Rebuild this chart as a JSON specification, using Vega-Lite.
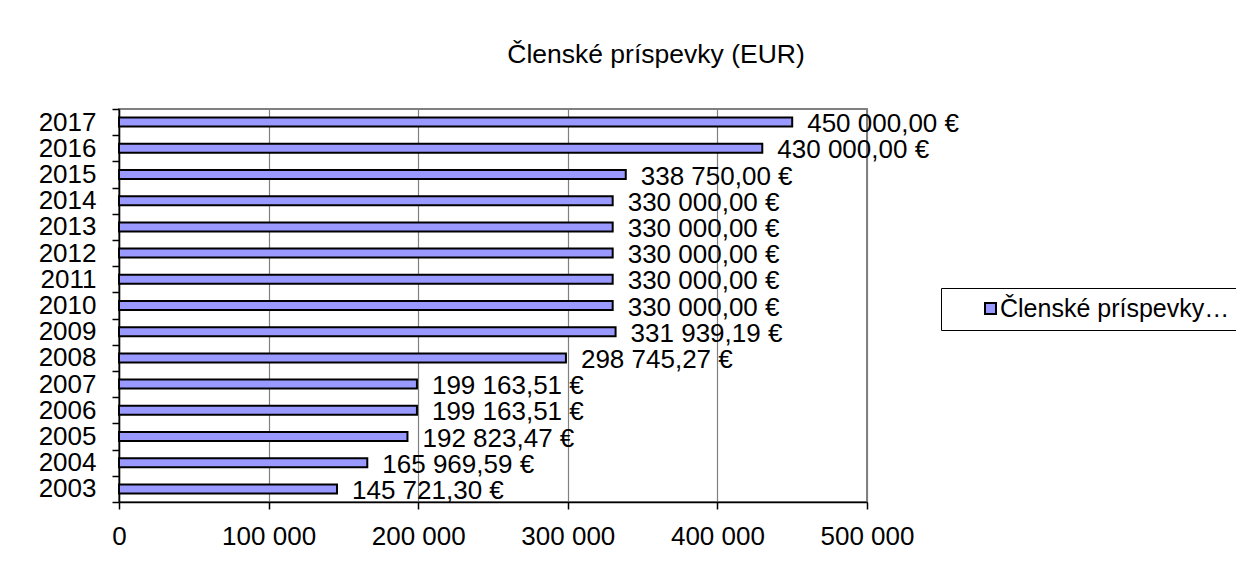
{
  "$schema": "https://vega.github.io/schema/vega-lite/v6.json",
  "width": 748,
  "height": 393,
  "autosize": {"type": "none"},
  "padding": {"left": 119, "top": 109, "right": 369, "bottom": 82},
  "background": "white",
  "title": {
    "text": "Členské príspevky (EUR)",
    "font": "Liberation Sans",
    "fontSize": 26.5,
    "fontWeight": "normal",
    "color": "black",
    "anchor": "middle",
    "dx": 163,
    "offset": 7,
    "baseline": "alphabetic"
  },
  "config": {
    "locale": {
      "number": {"decimal": ",", "thousands": " ", "grouping": [3], "currency": ["", " €"]}
    },
    "font": "Liberation Sans",
    "view": {"stroke": "#808080", "strokeWidth": 2},
    "axis": {
      "labelFont": "Liberation Sans",
      "labelFontSize": 26,
      "labelColor": "black",
      "domainColor": "black",
      "domainWidth": 1.5,
      "tickColor": "black",
      "tickWidth": 1.5,
      "tickSize": 7,
      "title": null
    }
  },
  "data": {
    "values": [
      {"year": "2003", "value": 145721.30, "series": "Členské príspevky (EUR)"},
      {"year": "2004", "value": 165969.59, "series": "Členské príspevky (EUR)"},
      {"year": "2005", "value": 192823.47, "series": "Členské príspevky (EUR)"},
      {"year": "2006", "value": 199163.51, "series": "Členské príspevky (EUR)"},
      {"year": "2007", "value": 199163.51, "series": "Členské príspevky (EUR)"},
      {"year": "2008", "value": 298745.27, "series": "Členské príspevky (EUR)"},
      {"year": "2009", "value": 331939.19, "series": "Členské príspevky (EUR)"},
      {"year": "2010", "value": 330000.00, "series": "Členské príspevky (EUR)"},
      {"year": "2011", "value": 330000.00, "series": "Členské príspevky (EUR)"},
      {"year": "2012", "value": 330000.00, "series": "Členské príspevky (EUR)"},
      {"year": "2013", "value": 330000.00, "series": "Členské príspevky (EUR)"},
      {"year": "2014", "value": 330000.00, "series": "Členské príspevky (EUR)"},
      {"year": "2015", "value": 338750.00, "series": "Členské príspevky (EUR)"},
      {"year": "2016", "value": 430000.00, "series": "Členské príspevky (EUR)"},
      {"year": "2017", "value": 450000.00, "series": "Členské príspevky (EUR)"}
    ]
  },
  "layer": [
    {
      "mark": {"type": "bar", "size": 9, "stroke": "black", "strokeWidth": 2},
      "encoding": {
        "y": {
          "field": "year",
          "type": "ordinal",
          "sort": "descending",
          "scale": {"paddingInner": 0, "paddingOuter": 0},
          "axis": {"tickBand": "extent", "labelPadding": 16, "grid": false, "labelAlign": "right"}
        },
        "x": {
          "field": "value",
          "type": "quantitative",
          "scale": {"domain": [0, 500000], "nice": false, "zero": true},
          "axis": {
            "format": ",d",
            "tickCount": 5,
            "grid": true,
            "gridColor": "#808080",
            "gridWidth": 1.2,
            "labelPadding": 14,
            "labelFlush": false
          }
        },
        "color": {
          "field": "series",
          "type": "nominal",
          "scale": {"range": ["#9999FF"]},
          "legend": {
            "title": null,
            "orient": "none",
            "legendX": 822,
            "legendY": 179,
            "strokeColor": "black",
            "fillColor": "white",
            "padding": 8,
            "symbolType": "square",
            "symbolSize": 121,
            "symbolStrokeColor": "black",
            "symbolStrokeWidth": 2,
            "symbolOffset": 29,
            "labelOffset": -3,
            "labelFont": "Liberation Sans",
            "labelFontSize": 25,
            "labelColor": "black",
            "labelLimit": 232
          }
        }
      }
    },
    {
      "mark": {
        "type": "text",
        "align": "left",
        "baseline": "middle",
        "dx": 15,
        "dy": 2,
        "font": "Liberation Sans",
        "fontSize": 26,
        "color": "black"
      },
      "encoding": {
        "y": {"field": "year", "type": "ordinal", "sort": "descending"},
        "x": {"field": "value", "type": "quantitative"},
        "text": {"field": "value", "type": "quantitative", "format": "$,.2f"}
      }
    }
  ]
}
